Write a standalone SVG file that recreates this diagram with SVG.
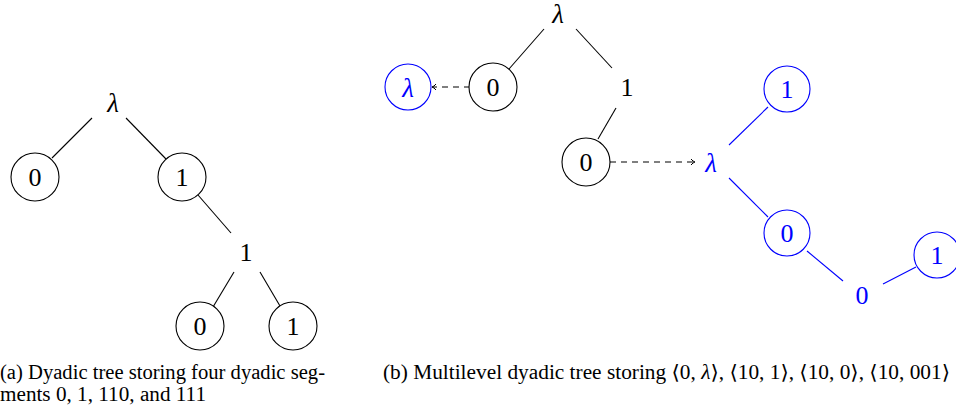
<svg xmlns="http://www.w3.org/2000/svg" width="956" height="415" viewBox="0 0 956 415">
<defs>
<style>
.n{fill:#fff;stroke:#000;stroke-width:1.1}
.nb{fill:#fff;stroke:#00f;stroke-width:1.1}
.t{font-family:"Liberation Serif","DejaVu Serif",serif;font-size:26px;text-anchor:middle;fill:#000}
.tb{fill:#00f}
.lam{font-style:italic;font-size:27px}
.e{stroke:#000;stroke-width:1.1;fill:none}
.eb{stroke:#00f;stroke-width:1.1;fill:none}
.d{stroke:#000;stroke-width:1.1;fill:none;stroke-dasharray:6 5;marker-end:url(#arr)}
.cap{font-family:"Liberation Serif","DejaVu Serif",serif;font-size:20px;fill:#000}
</style>
<marker id="arr" markerWidth="8" markerHeight="8" refX="0" refY="0" viewBox="-5 -4 6 8" orient="auto" markerUnits="userSpaceOnUse">
<path d="M-4,-3 Q-2,-0.5 0,0 Q-2,0.5 -4,3" fill="none" stroke="#000" stroke-width="1"/>
</marker>
</defs>
<g id="connectors">
<line class="e" x1="92" y1="118" x2="52" y2="158"/>
<line class="e" x1="126" y1="118" x2="166" y2="159"/>
<line class="e" x1="198" y1="195" x2="231" y2="233"/>
<line class="e" x1="234" y1="272" x2="213" y2="307"/>
<line class="e" x1="260" y1="272" x2="280" y2="306"/>
<line class="e" x1="544" y1="29" x2="509" y2="69"/>
<line class="e" x1="576" y1="29" x2="612" y2="68"/>
<line class="e" x1="616" y1="108" x2="598" y2="139"/>
<line class="d" x1="470" y1="87" x2="432" y2="87"/>
<line class="d" x1="610" y1="162" x2="695" y2="162"/>
<line class="eb" x1="729" y1="145" x2="768" y2="107"/>
<line class="eb" x1="729" y1="178" x2="768" y2="217"/>
<line class="eb" x1="807" y1="251" x2="843" y2="281"/>
<line class="eb" x1="883" y1="284" x2="916" y2="267"/>
</g>
<g id="a_root"><text class="t lam" x="113" y="112">λ</text></g>
<g id="a_0"><circle class="n" cx="35" cy="177" r="24"/><text class="t" x="35" y="186">0</text></g>
<g id="a_1"><circle class="n" cx="182" cy="177" r="24"/><text class="t" x="182" y="186">1</text></g>
<g id="a_11"><text class="t" x="246" y="261">1</text></g>
<g id="a_110"><circle class="n" cx="200" cy="326" r="24"/><text class="t" x="200" y="335">0</text></g>
<g id="a_111"><circle class="n" cx="293" cy="326" r="24"/><text class="t" x="293" y="335">1</text></g>
<g id="b_root"><text class="t lam" x="558" y="23">λ</text></g>
<g id="b_0"><circle class="n" cx="493" cy="87" r="24"/><text class="t" x="493" y="96">0</text></g>
<g id="b_0_lam"><circle class="nb" cx="408" cy="87" r="23"/><text class="t tb lam" x="408" y="97">λ</text></g>
<g id="b_1"><text class="t" x="627" y="96">1</text></g>
<g id="b_10"><circle class="n" cx="586" cy="162" r="24"/><text class="t" x="586" y="171">0</text></g>
<g id="b_10_lam"><text class="t tb lam" x="711" y="172">λ</text></g>
<g id="b_10_1"><circle class="nb" cx="787" cy="89" r="23"/><text class="t tb" x="787" y="98">1</text></g>
<g id="b_10_0"><circle class="nb" cx="787" cy="233" r="23"/><text class="t tb" x="787" y="242">0</text></g>
<g id="b_10_00"><text class="t tb" x="862" y="304">0</text></g>
<g id="b_10_001"><circle class="nb" cx="937" cy="255" r="23"/><text class="t tb" x="937" y="264">1</text></g>
<g id="captions">
<text class="cap" x="0" y="379" textLength="325" lengthAdjust="spacingAndGlyphs">(a) Dyadic tree storing four dyadic seg-</text>
<text class="cap" x="0" y="401" textLength="206" lengthAdjust="spacingAndGlyphs">ments 0, 1, 110, and 111</text>
<text class="cap" x="383" y="379" textLength="567" lengthAdjust="spacingAndGlyphs">(b) Multilevel dyadic tree storing ⟨0, <tspan font-style="italic">λ</tspan>⟩, ⟨10, 1⟩, ⟨10, 0⟩, ⟨10, 001⟩</text>
</g>
</svg>
